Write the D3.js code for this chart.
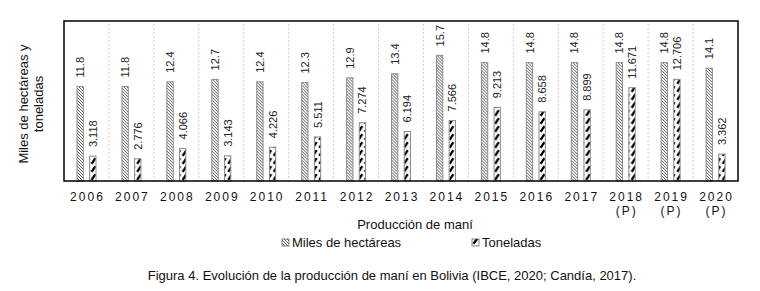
<!DOCTYPE html>
<html>
<head>
<meta charset="utf-8">
<script src="https://cdn.jsdelivr.net/npm/d3@7"></script>
<style>
body { margin: 0; background: #fff; }
text { font-family: "Liberation Sans", Arial, sans-serif; }
</style>
</head>
<body>
<script>
var width = 760;
var height = 291;

var years = ["2006","2007","2008","2009","2010","2011","2012","2013","2014","2015","2016","2017","2018","2019","2020"];
var subLabels = ["","","","","","","","","","","","","(P)","(P)","(P)"];
var hectareas = [11.8,11.8,12.4,12.7,12.4,12.3,12.9,13.4,15.7,14.8,14.8,14.8,14.8,14.8,14.1];
var toneladas = [3.118,2.776,4.066,3.143,4.226,5.511,7.274,6.194,7.566,9.213,8.658,8.899,11.671,12.706,3.362];
var hectLabels = ["11.8","11.8","12.4","12.7","12.4","12.3","12.9","13.4","15.7","14.8","14.8","14.8","14.8","14.8","14.1"];
var tonLabels = ["3.118","2.776","4.066","3.143","4.226","5.511","7.274","6.194","7.566","9.213","8.658","8.899","11.671","12.706","3.362"];
var seriesNames = ["Miles de hectáreas", "Toneladas"];

var plotLeft = 64, plotRight = 738, plotTop = 21, plotBottom = 181;

var svg = d3.select("body")
            .append("svg")
            .attr("width", width)
            .attr("height", height);

var defs = svg.append("defs");

var x = d3.scaleBand().domain(years).range([plotLeft, plotRight]).padding(0);
var xSub = d3.scaleBand().domain(seriesNames).range([13, 32]).paddingInner(0.5);
var y = d3.scaleLinear().domain([0, 20]).range([plotBottom, plotTop]);

// thin hatch for hectareas
var p1 = defs.append("pattern")
    .attr("id", "hatchA")
    .attr("patternUnits", "userSpaceOnUse")
    .attr("width", 3).attr("height", 3);
p1.append("rect").attr("width", 3).attr("height", 3).attr("fill", "#fff");
p1.append("path").attr("d", "M-1,-1 L4,4 M-1,2 L1,4 M2,-1 L4,1")
    .attr("stroke", "#333").attr("stroke-width", 0.8);

// thick dashed upward diagonal for toneladas, one per bar so it lines up
function makeHatchB(id, x0, w) {
    var p = defs.append("pattern")
        .attr("id", id)
        .attr("patternUnits", "userSpaceOnUse")
        .attr("x", x0).attr("y", plotBottom)
        .attr("width", w).attr("height", 8);
    p.append("rect").attr("width", w).attr("height", 8).attr("fill", "#fff");
    p.append("path").attr("d", "M" + (w * 0.2) + ",6.8 L" + (w * 0.8) + ",1.2")
        .attr("stroke", "#000").attr("stroke-width", 2.3);
}
years.forEach(function(d, i) {
    makeHatchB("hatchB" + i, x(d) + xSub(seriesNames[1]), xSub.bandwidth());
});
makeHatchB("hatchBleg", 472, 7);

// vertical dotted separators
svg.selectAll("line.grid")
    .data(years.slice(1))
    .enter()
    .append("line")
    .attr("class", "grid")
    .attr("x1", function(d) { return x(d); })
    .attr("x2", function(d) { return x(d); })
    .attr("y1", plotTop + 3)
    .attr("y2", plotBottom)
    .attr("stroke", "#d9cdd3")
    .attr("stroke-dasharray", "2,2");

var rows = years.map(function(d, i) {
    return { i: i, year: d, h: hectareas[i], t: toneladas[i], hl: hectLabels[i], tl: tonLabels[i], sub: subLabels[i] };
});

var groups = svg.selectAll("g.year")
    .data(rows)
    .enter()
    .append("g")
    .attr("transform", function(d) { return "translate(" + x(d.year) + ",0)"; });

groups.append("rect")
    .attr("x", xSub(seriesNames[0]))
    .attr("width", xSub.bandwidth())
    .attr("y", function(d) { return y(d.h); })
    .attr("height", function(d) { return plotBottom - y(d.h); })
    .attr("fill", "url(#hatchA)")
    .attr("stroke", "#8c8c8c")
    .attr("stroke-width", 1);

groups.append("rect")
    .attr("x", xSub(seriesNames[1]))
    .attr("width", xSub.bandwidth())
    .attr("y", function(d) { return y(d.t); })
    .attr("height", function(d) { return plotBottom - y(d.t); })
    .attr("fill", function(d) { return "url(#hatchB" + d.i + ")"; })
    .attr("stroke", "#8c8c8c")
    .attr("stroke-width", 1);

// rotated value labels
groups.append("text")
    .attr("transform", function(d) {
        var cx = xSub(seriesNames[0]) + xSub.bandwidth() / 2 + 4;
        return "translate(" + cx + "," + (y(d.h) - 9) + ") rotate(-90)";
    })
    .attr("font-size", 11)
    .attr("fill", "#222")
    .text(function(d) { return d.hl; });

groups.append("text")
    .attr("transform", function(d) {
        var cx = xSub(seriesNames[1]) + xSub.bandwidth() / 2 + 4;
        return "translate(" + cx + "," + (y(d.t) - 9) + ") rotate(-90)";
    })
    .attr("font-size", 11)
    .attr("fill", "#222")
    .text(function(d) { return d.tl; });

// year labels
groups.append("text")
    .attr("x", x.bandwidth() / 2 + 1)
    .attr("y", 201)
    .attr("text-anchor", "middle")
    .attr("font-size", 12)
    .attr("letter-spacing", 2)
    .attr("fill", "#111")
    .text(function(d) { return d.year; });

groups.append("text")
    .attr("x", x.bandwidth() / 2 + 1)
    .attr("y", 215)
    .attr("text-anchor", "middle")
    .attr("font-size", 12)
    .attr("letter-spacing", 2)
    .attr("fill", "#111")
    .text(function(d) { return d.sub; });

// frame
svg.append("rect")
    .attr("x", plotLeft).attr("y", plotTop)
    .attr("width", plotRight - plotLeft).attr("height", plotBottom - plotTop)
    .attr("fill", "none")
    .attr("stroke", "#000")
    .attr("stroke-width", 1.5);

// axis title
var yt = svg.append("text")
    .attr("transform", "translate(28,104) rotate(-90)")
    .attr("text-anchor", "middle")
    .attr("font-size", 13)
    .attr("fill", "#111");
yt.append("tspan").attr("x", 0).attr("dy", 0).text("Miles de hectáreas y");
yt.append("tspan").attr("x", 0).attr("dy", 15).text("toneladas");

svg.append("text")
    .attr("x", 415).attr("y", 229)
    .attr("text-anchor", "middle")
    .attr("font-size", 13)
    .attr("fill", "#111")
    .text("Producción de maní");

// legend
var legendX = [282, 472];
seriesNames.forEach(function(name, i) {
    svg.append("rect")
        .attr("x", legendX[i]).attr("y", 239)
        .attr("width", 7).attr("height", 7)
        .attr("fill", i === 0 ? "url(#hatchA)" : "url(#hatchBleg)")
        .attr("stroke", "#666")
        .attr("stroke-width", 0.8);
    svg.append("text")
        .attr("x", legendX[i] + 10).attr("y", 247)
        .attr("font-size", 13)
        .attr("fill", "#111")
        .text(name);
});

svg.append("text")
    .attr("x", 392).attr("y", 280)
    .attr("text-anchor", "middle")
    .attr("font-size", 13)
    .attr("fill", "#111")
    .text("Figura 4. Evolución de la producción de maní en Bolivia (IBCE, 2020; Candía, 2017).");
</script>
</body>
</html>
